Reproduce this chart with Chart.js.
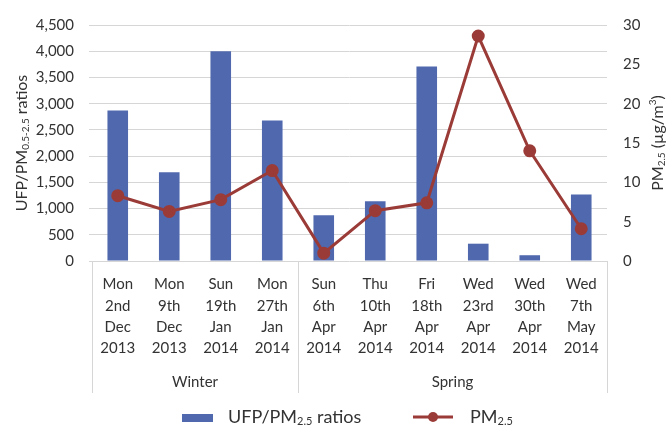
<!DOCTYPE html>
<html>
<head>
<meta charset="utf-8">
<script src="https://cdn.jsdelivr.net/npm/chart.js@4"></script>
<style>
  html, body { margin: 0; padding: 0; background: #fff; }
  #wrap { width: 669px; height: 425px; }
</style>
</head>
<body>
<div id="wrap"><canvas id="chart" width="669" height="425"></canvas></div>
<script>
// sampling days and seasons
const dayLabels = [
    ['Mon', '2nd', 'Dec', '2013'],
    ['Mon', '9th', 'Dec', '2013'],
    ['Sun', '19th', 'Jan', '2014'],
    ['Mon', '27th', 'Jan', '2014'],
    ['Sun', '6th', 'Apr', '2014'],
    ['Thu', '10th', 'Apr', '2014'],
    ['Fri', '18th', 'Apr', '2014'],
    ['Wed', '23rd', 'Apr', '2014'],
    ['Wed', '30th', 'Apr', '2014'],
    ['Wed', '7th', 'May', '2014']
];
const seasons = ['Winter', 'Spring'];
const seasonSizes = [4, 6];

// values
const ufpRatios = [2870, 1690, 4000, 2680, 870, 1140, 3710, 330, 110, 1270];
const pm25 = [8.3, 6.3, 7.8, 11.5, 1.0, 6.4, 7.4, 28.6, 14.0, 4.1];

const leftTicks = [0, 500, 1000, 1500, 2000, 2500, 3000, 3500, 4000, 4500];
const rightTicks = [0, 5, 10, 15, 20, 25, 30];

const FONT = 'Lato, "Open Sans", sans-serif';
const TEXT = '#333333';
const GRID = '#d6d6d6';
const BLUE = '#5068ae';
const RED = '#9b3b37';

// measures/draws text pieces, some as sub- or superscripts
function partFont(p, size) {
    return ((p.sub || p.sup) ? Math.round(size * 0.62) : size) + 'px ' + FONT;
}

function drawParts(ctx, parts, x, y, size, centred) {
    ctx.textBaseline = 'middle';
    ctx.textAlign = 'left';
    let total = 0;
    parts.forEach(p => {
        ctx.font = partFont(p, size);
        p.w = ctx.measureText(p.t).width;
        total += p.w;
    });
    let cx = centred ? x - total / 2 : x;
    parts.forEach(p => {
        ctx.font = partFont(p, size);
        let dy = 0;
        if (p.sub) dy = size * 0.25;
        if (p.sup) dy = -size * 0.3;
        ctx.fillText(p.t, cx, y + dy);
        cx += p.w;
    });
}

const extras = {
    id: 'extras',
    afterDraw(chart) {
        const ctx = chart.ctx;
        const area = chart.chartArea;
        const bottom = area.bottom + 132;
        ctx.save();
        ctx.fillStyle = TEXT;

        // season boxes
        ctx.strokeStyle = GRID;
        ctx.lineWidth = 1;
        let start = 0;
        const edges = [area.left];
        seasons.forEach((s, i) => {
            const end = start + seasonSizes[i];
            const right = area.left + (area.right - area.left) * end / dayLabels.length;
            edges.push(right);
            ctx.font = '15px ' + FONT;
            ctx.textAlign = 'center';
            ctx.textBaseline = 'middle';
            ctx.fillText(s, (edges[i] + right) / 2, area.bottom + 121);
            start = end;
        });
        edges.forEach(e => {
            ctx.beginPath();
            ctx.moveTo(Math.round(e) + 0.5, area.bottom);
            ctx.lineTo(Math.round(e) + 0.5, bottom);
            ctx.stroke();
        });

        // axis titles
        ctx.save();
        ctx.translate(22, (area.top + area.bottom) / 2);
        ctx.rotate(-Math.PI / 2);
        drawParts(ctx, [{ t: 'UFP/PM' }, { t: '0.5-2.5', sub: true }, { t: ' ratios' }], 0, 0, 16, true);
        ctx.restore();

        ctx.save();
        ctx.translate(658, (area.top + area.bottom) / 2);
        ctx.rotate(-Math.PI / 2);
        drawParts(ctx, [{ t: 'PM' }, { t: '2.5', sub: true }, { t: ' (\u00b5g/m' }, { t: '3', sup: true }, { t: ')' }], 0, 0, 16, true);
        ctx.restore();

        // legend
        const ly = 417;
        ctx.fillStyle = BLUE;
        ctx.fillRect(182, ly - 3, 31, 8);
        ctx.fillStyle = TEXT;
        drawParts(ctx, [{ t: 'UFP/PM' }, { t: '2.5', sub: true }, { t: ' ratios' }], 228, ly, 18, false);

        ctx.strokeStyle = RED;
        ctx.lineWidth = 3;
        ctx.beginPath();
        ctx.moveTo(413, ly);
        ctx.lineTo(453, ly);
        ctx.stroke();
        ctx.fillStyle = RED;
        ctx.beginPath();
        ctx.arc(433, ly, 5, 0, Math.PI * 2);
        ctx.fill();
        ctx.fillStyle = TEXT;
        drawParts(ctx, [{ t: 'PM' }, { t: '2.5', sub: true }], 470, ly, 18, false);
        ctx.restore();
    }
};

new Chart(document.getElementById('chart'), {
    data: {
        labels: dayLabels,
        datasets: [
            {
                type: 'line',
                label: 'PM2.5',
                data: pm25,
                yAxisID: 'y1',
                borderColor: RED,
                backgroundColor: RED,
                borderWidth: 3,
                pointRadius: 5,
                pointHoverRadius: 5,
                order: 1
            },
            {
                type: 'bar',
                label: 'UFP/PM2.5 ratios',
                data: ufpRatios,
                yAxisID: 'y',
                backgroundColor: BLUE,
                categoryPercentage: 1,
                barPercentage: 0.4,
                order: 2
            }
        ]
    },
    options: {
        responsive: false,
        animation: false,
        layout: { padding: { top: 18, left: 0, right: 0, bottom: 0 } },
        plugins: { legend: { display: false }, tooltip: { enabled: false } },
        scales: {
            x: {
                grid: { display: false, drawTicks: false },
                border: { display: false },
                ticks: {
                    autoSkip: false,
                    maxRotation: 0,
                    padding: 13,
                    color: TEXT,
                    font: { family: FONT, size: 15, lineHeight: 1.42 }
                },
                afterFit: s => { s.height = 164; }
            },
            y: {
                position: 'left',
                min: 0,
                max: 4500,
                afterBuildTicks: s => { s.ticks = leftTicks.map(v => ({ value: v })); },
                grid: { color: GRID, tickLength: 3 },
                border: { display: false },
                ticks: {
                    padding: 15,
                    color: TEXT,
                    font: { family: FONT, size: 15 },
                    callback: v => v.toLocaleString('en-US')
                },
                afterFit: s => { s.width = 92; }
            },
            y1: {
                position: 'right',
                min: 0,
                max: 30,
                afterBuildTicks: s => { s.ticks = rightTicks.map(v => ({ value: v })); },
                grid: { display: false, drawTicks: false },
                border: { display: false },
                ticks: {
                    padding: 16,
                    color: TEXT,
                    font: { family: FONT, size: 15 }
                },
                afterFit: s => { s.width = 62; }
            }
        }
    },
    plugins: [extras]
});
</script>
</body>
</html>
